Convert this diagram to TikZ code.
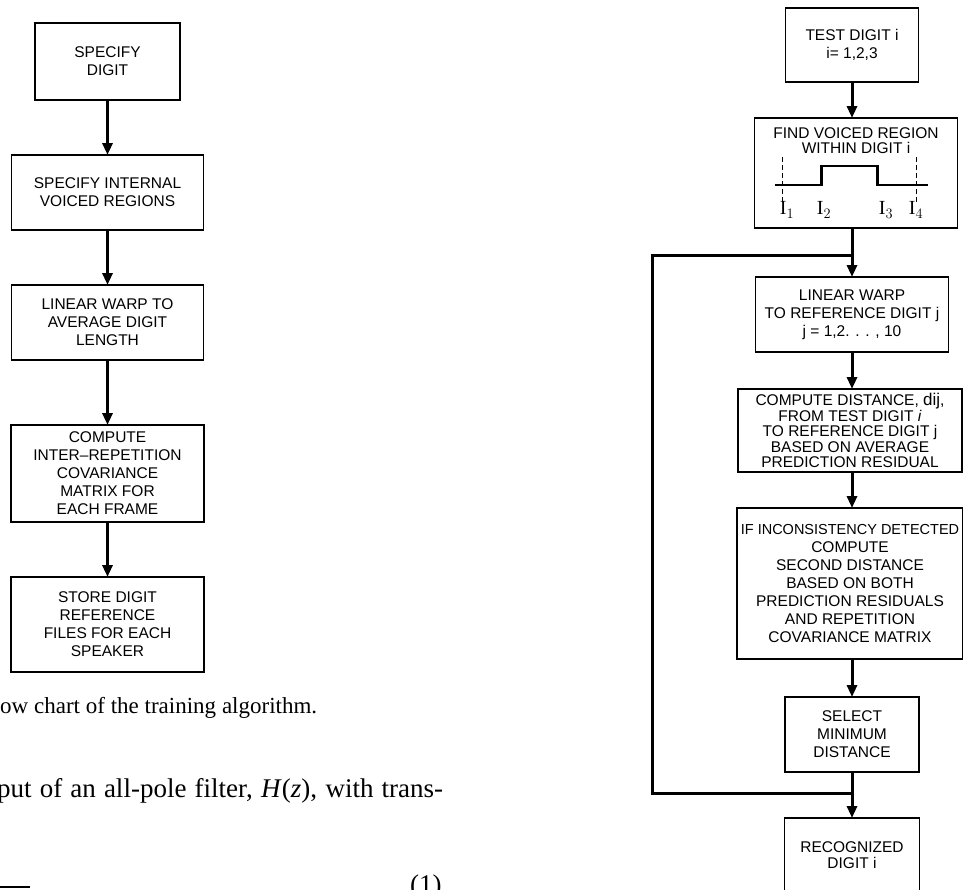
\documentclass[tikz,border=0pt]{standalone}
\usepackage{fontspec}
\setmainfont{Liberation Serif}
\newfontfamily\letterfont{Liberation Sans}
\usetikzlibrary{arrows.meta, positioning}
\tikzset{
  box/.style={rectangle, draw, line width=1.6pt, align=center, inner sep=0pt, outer sep=0pt, font=\letterfont\fontsize{15.5}{18}\selectfont},
  tight/.style={font=\letterfont\fontsize{15.5}{15.5}\selectfont},
  txt/.style={align=center, inner sep=0pt, font=\letterfont\fontsize{15.5}{18}\selectfont},
  flow/.style={-{Triangle[length=12pt, width=10pt]}, line width=3pt},
  loopline/.style={line width=3pt},
  wave/.style={line width=2.4pt},
  cutline/.style={line width=1pt, dash pattern=on 5pt off 3pt},
  ilabel/.style={inner sep=0pt, font=\fontsize{20}{20}\selectfont},
  bodytext/.style={inner sep=0pt, anchor=base west},
}

\begin{document}
\begin{tikzpicture}[x=1pt, y=-1pt]
  \useasboundingbox (0,0) rectangle (963,889);
  % training
  \node[box, minimum width=145pt, minimum height=77pt] (spec) at (107.5,61.5) {SPECIFY\\DIGIT};
  \node[box, minimum width=192pt, minimum height=75pt, below=55pt of spec] (voiced) {SPECIFY INTERNAL\\VOICED REGIONS};
  \node[box, minimum width=192pt, minimum height=75pt, below=55pt of voiced] (avgwarp) {LINEAR WARP TO\\AVERAGE DIGIT\\LENGTH};
  \node[box, minimum width=193pt, minimum height=97pt, below=65pt of avgwarp] (covar) {COMPUTE\\INTER–REPETITION\\COVARIANCE\\MATRIX FOR\\EACH FRAME};
  \node[box, minimum width=193pt, minimum height=95pt, below=55pt of covar] (store) {STORE DIGIT\\REFERENCE\\FILES FOR EACH\\SPEAKER};
  \draw[flow] (spec) -- (voiced);
  \draw[flow] (voiced) -- (avgwarp);
  \draw[flow] (avgwarp) -- (covar);
  \draw[flow] (covar) -- (store);

  % recognition
  \node[box, minimum width=133pt, minimum height=74pt] (test) at (852,45) {TEST DIGIT i\\i= 1,2,3};
  \node[box, minimum width=203pt, minimum height=110pt, below=36pt of test, xshift=4pt] (region) {};
  \node[txt, below=9pt of region.north] (regiontxt) {FIND VOICED REGION\\[-3pt]WITHIN DIGIT i};
  \node[box, minimum width=193pt, minimum height=75pt, below=49pt of region, xshift=-4pt] (refwarp) {LINEAR WARP\\TO REFERENCE DIGIT j\\j = 1,2. . . , 10};
  \node[box, tight, minimum width=224pt, minimum height=83pt, below=37pt of refwarp, xshift=-2pt] (dist) {COMPUTE DISTANCE, {\fontsize{17}{15.5}\selectfont dij},\\FROM TEST DIGIT \textit{i}\\TO REFERENCE DIGIT j\\BASED ON AVERAGE\\PREDICTION RESIDUAL};
  \node[box, minimum width=226pt, minimum height=151pt, below=36pt of dist] (second) {{\fontsize{14.5}{18}\selectfont IF INCONSISTENCY DETECTED}\\COMPUTE\\SECOND DISTANCE\\BASED ON BOTH\\PREDICTION RESIDUALS\\AND REPETITION\\COVARIANCE MATRIX};
  \node[box, minimum width=134pt, minimum height=75pt, below=38pt of second, xshift=2pt] (select) {SELECT\\MINIMUM\\DISTANCE};
  \node[box, tight, minimum width=135pt, minimum height=74pt, below=46pt of select] (result) {RECOGNIZED\\DIGIT i};

  % voiced region sketch
  \begin{scope}[shift={(region.center)}]
    \draw[wave] (-81.5,12) -- (-34.5,12) -- (-34.5,-7) -- (21.5,-7) -- (21.5,12) -- (71.5,12);
    \draw[cutline] (-73.5,-16) -- (-73.5,30);
    \draw[cutline] (60.5,-16) -- (60.5,30);
    \node[ilabel] (i1) at (-69,37) {$\mathrm{I}_1$};
    \node[ilabel] (i2) at (-32,37) {$\mathrm{I}_2$};
    \node[ilabel] (i3) at (30,37) {$\mathrm{I}_3$};
    \node[ilabel] (i4) at (60,37) {$\mathrm{I}_4$};
  \end{scope}

  \coordinate (jt) at (852,255);
  \coordinate (jb) at (852,793);
  \coordinate (lc) at (652,255);
  \draw[flow] (test.south) -- (test.south |- region.north);
  \draw[flow] (region.south -| refwarp) -- (refwarp.north);
  \draw[flow] (refwarp.south -| select) -- (dist.north -| select);
  \draw[flow] (dist.south -| select) -- (second.north -| select);
  \draw[flow] (second.south -| select) -- (select.north);
  \draw[flow] (select) -- (result);
  \draw[loopline] (jb) -| (lc) -- (jt);

  % page text
  \node[bodytext, font=\fontsize{23}{26}\selectfont] (capt) at (0,713) {\makebox[317pt][s]{ow chart of the training algorithm.}};
  \node[bodytext, font=\fontsize{27}{30}\selectfont] (para) at (-3,797) {\makebox[446pt][s]{put of an all-pole filter, \textit{H}(\textit{z}), with trans-}};
  \node[bodytext, font=\fontsize{27}{30}\selectfont] (eqno) at (410,893) {(1)};
  \draw[line width=2pt] (0,887) -- (30,887);
\end{tikzpicture}
\end{document}
